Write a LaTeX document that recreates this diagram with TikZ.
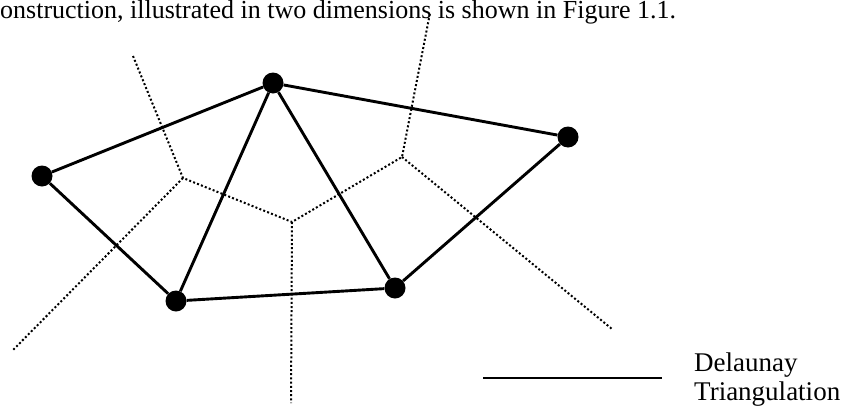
\documentclass[tikz,border=0pt]{standalone}
\usepackage{fontspec}
\setmainfont{Liberation Serif}
\usetikzlibrary{positioning}

\begin{document}
\begin{tikzpicture}[
x=1pt,y=-1pt,
site/.style={circle,fill=black,inner sep=0pt,minimum size=21pt},
del/.style={line width=2.9pt},
vor/.style={line width=2pt,dash pattern=on 2pt off 2.2pt},
txt/.style={inner sep=0pt,anchor=base west,font=\fontsize{27}{29}\selectfont}
]
\useasboundingbox (0,0) rectangle (843,407);
% caption line cut off by the crop
\node[txt,font=\fontsize{26}{28}\selectfont] (cap) at (0,18) {onstruction, illustrated in two dimensions is shown in Figure 1.1.};
% voronoi vertices and open ends
\coordinate (v1) at (183,178);
\coordinate (v2) at (292,222);
\coordinate (v3) at (402,157);
\coordinate (e1) at (133,56);
\coordinate (e2) at (13,350);
\coordinate (e3) at (291,403);
\coordinate (e4) at (430,13);
\coordinate (e5) at (612,329);
\draw[vor] (e1) -- (v1) -- (v2) -- (v3) -- (e4);
\draw[vor] (v1) -- (e2);
\draw[vor] (v2) -- (e3);
\draw[vor] (v3) -- (e5);
% sites
\node[site] (a) at (42,176) {};
\node[site] (b) at (273,83) {};
\node[site] (c) at (568,137) {};
\node[site] (d) at (176,301) {};
\node[site] (e) at (395,288) {};
\draw[del] (a) -- (b) -- (c) -- (e) -- (d) -- (a);
\draw[del] (b) -- (d);
\draw[del] (b) -- (e);
% legend
\coordinate (l1) at (483,378);
\coordinate (l2) at (662,378);
\draw[del] (l1) -- (l2);
\node[txt] (leg1) at (694,371) {Delaunay};
\node[txt] (leg2) at (694,400) {Triangulation};
\end{tikzpicture}
\end{document}
